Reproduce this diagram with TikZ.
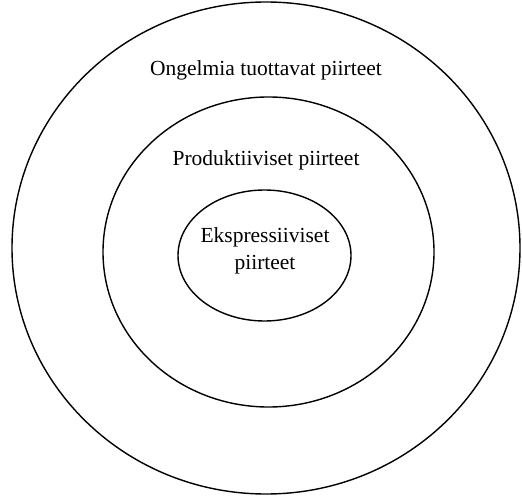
\documentclass[tikz,border=0pt]{standalone}
\usepackage{fontspec}
\setmainfont{Liberation Serif}
\usetikzlibrary{shapes.geometric}
\begin{document}
\begin{tikzpicture}[x=1pt,y=1pt,
  ring/.style={draw=black,line width=1.4pt,ellipse,inner sep=0pt},
  lbl/.style={font=\fontsize{21.5}{27}\selectfont,align=center,inner sep=0pt}]
\useasboundingbox (0,0) rectangle (522,496);
% nested ellipses
\node[ring,minimum width=508,minimum height=492] (outer) at (266,248) {};
\node[ring,minimum width=331,minimum height=310] (middle) at (268.5,244) {};
\node[ring,minimum width=173,minimum height=131] (inner) at (264.5,240.5) {};
% labels
\node[lbl] (tOuter) at (266,426) {Ongelmia tuottavat piirteet};
\node[lbl] (tMiddle) at (266,336) {Produktiiviset piirteet};
\node[lbl] (tInner) at (265,245) {Ekspressiiviset\\piirteet};
\end{tikzpicture}
\end{document}
